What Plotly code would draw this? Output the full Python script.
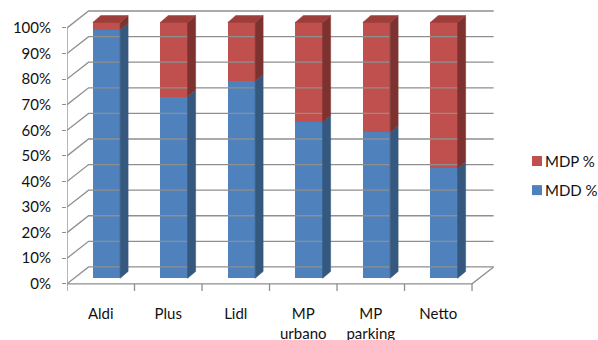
import plotly.graph_objects as go

# ---- data ----
categories = ["Aldi", "Plus", "Lidl", "MP<br>urbano", "MP<br>parking", "Netto"]
mdd_pct = [97, 71, 77, 61, 57, 43]
mdp_pct = [3, 29, 23, 39, 43, 57]
series_names = ["MDP %", "MDD %"]
y_ticks = [0, 10, 20, 30, 40, 50, 60, 70, 80, 90, 100]
y_ticktext = [f"{v}%" for v in y_ticks]

# ---- 3D emulation geometry (data units) ----
DX, DY = 0.32, 6.6        # wall depth offset
BX, BY = 0.084, 2.15      # bar front-face offset from front plane
SX, SY = 0.119, 2.7       # bar depth
W = 0.405                 # bar width

BLUE, BLUE_SIDE = "#4F81BD", "#35587f"
RED, RED_SIDE, RED_TOP = "#C0504D", "#7e3230", "#9d3e3b"
GRID = "#8f8f8f"

n = len(categories)
xs = list(range(n))
fig = go.Figure()

# grid: left wall diagonals + back wall lines
gx, gy = [], []
for v in y_ticks:
    gx += [-0.5, -0.5 + DX, n - 0.5 + DX, None]
    gy += [v, v + DY, v + DY, None]
# floor front line & right diagonal, front vertical axis
gx += [-0.5, n - 0.5, n - 0.5 + DX, None, -0.5, -0.5, None]
gy += [0, 0, DY, None, 0, 100, None]
# x tick marks
for b in range(n + 1):
    gx += [b - 0.5, b - 0.5, None]
    gy += [0, -2.8, None]
fig.add_trace(go.Scatter(x=gx, y=gy, mode="lines", line=dict(color=GRID, width=1.3),
                         hoverinfo="skip", showlegend=False, cliponaxis=False))

# bar front faces
fig.add_trace(go.Bar(x=[i + BX for i in xs], y=mdp_pct, base=[BY + v for v in mdd_pct],
                     width=W, marker=dict(color=RED, line=dict(width=0)),
                     name=series_names[0], showlegend=False))
fig.add_trace(go.Bar(x=[i + BX for i in xs], y=mdd_pct, base=[BY] * n,
                     width=W, marker=dict(color=BLUE, line=dict(width=0)),
                     name=series_names[1], showlegend=False))

# side and top faces
def poly(px, py, color):
    fig.add_trace(go.Scatter(x=px + [px[0]], y=py + [py[0]], mode="lines", fill="toself",
                             fillcolor=color, line=dict(width=0.5, color=color),
                             hoverinfo="skip", showlegend=False))

for i in xs:
    xl = i + BX - W / 2
    xr = i + BX + W / 2
    b = mdd_pct[i]
    t = mdd_pct[i] + mdp_pct[i]
    poly([xr, xr + SX, xr + SX, xr], [BY, BY + SY, BY + b + SY, BY + b], BLUE_SIDE)
    poly([xr, xr + SX, xr + SX, xr], [BY + b, BY + b + SY, BY + t + SY, BY + t], RED_SIDE)
    poly([xl, xl + SX, xr + SX, xr], [BY + t, BY + t + SY, BY + t + SY, BY + t], RED_TOP)

# legend (swatches + labels) in the right margin
legend_colors = [RED, BLUE]
legend_y = [0.4626, 0.359]
for name, col, ly in zip(series_names, legend_colors, legend_y):
    fig.add_shape(type="rect", xref="paper", yref="paper",
                  x0=1.0814, x1=1.1047, y0=ly - 0.0178, y1=ly + 0.0178,
                  fillcolor=col, line=dict(width=0))
    fig.add_annotation(xref="paper", yref="paper", x=1.107, y=ly, text=name,
                       showarrow=False, xanchor="left", yanchor="middle",
                       font=dict(size=15, color="#111111"))

fig.update_layout(
    width=598, height=340,
    margin=dict(l=67, r=101, t=10, b=49, autoexpand=False),
    plot_bgcolor="white", paper_bgcolor="white",
    barmode="overlay", bargap=0,
    font=dict(family="Lato, Open Sans, sans-serif", size=15, color="#111111"),
    xaxis=dict(range=[-0.5, 5.87], tickmode="array", tickvals=xs, ticktext=categories,
               showgrid=False, zeroline=False, showline=False, ticks="",
               ticklabelstandoff=12, automargin=False, fixedrange=True),
    yaxis=dict(range=[-2.8, 107], tickmode="array", tickvals=y_ticks, ticktext=y_ticktext,
               showgrid=False, zeroline=False, showline=False, ticks="outside",
               ticklen=4, tickcolor=GRID, ticklabelstandoff=8, automargin=False,
               fixedrange=True),
    showlegend=False,
)

fig.write_html("out.html")
